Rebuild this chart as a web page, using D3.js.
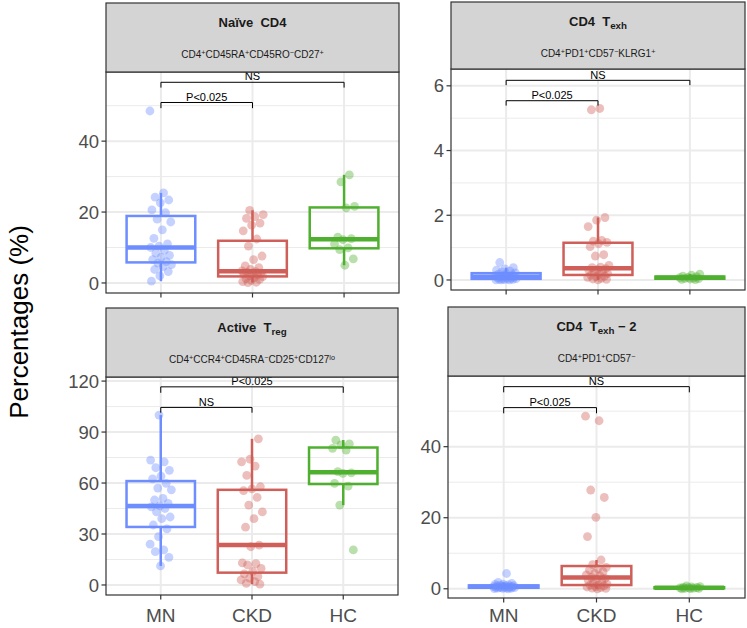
<!DOCTYPE html>
<html><head><meta charset="utf-8">
<script src="https://cdn.jsdelivr.net/npm/d3@7"></script>
<style>body{margin:0;background:#fff}svg{display:block;font-family:"Liberation Sans",Arial,sans-serif}</style>
</head><body><svg id="c" width="747" height="628"></svg>
<script>
// ---------- data ----------
const categories = ["MN", "CKD", "HC"];

const naiveMN  = [48.5, 25.4, 24.2, 23.4, 22.6, 20.6, 19.8, 18.0, 17.2, 15.0, 12.6, 11.0, 10.4, 10.0, 9.2, 8.4, 7.8, 7.2, 6.6, 6.0, 5.6, 5.2, 4.6, 3.8, 3.2, 2.0, 0.5];
const naiveCKD = [20.5, 19.3, 18.7, 18.2, 16.9, 16.3, 14.7, 12.4, 10.4, 7.6, 6.6, 4.8, 4.3, 3.8, 3.4, 3.2, 3.0, 2.8, 2.6, 2.5, 2.3, 2.0, 1.8, 1.5, 1.2, 1.0, 0.7, 0.4, 0.2, 0.1];
const naiveHC  = [30.5, 28.5, 21.6, 21.2, 12.9, 12.5, 12.2, 11.0, 9.9, 9.4, 6.8, 5.0];

const texhMN  = [0.54, 0.38, 0.34, 0.30, 0.27, 0.25, 0.22, 0.20, 0.18, 0.16, 0.15, 0.13, 0.12, 0.10, 0.09, 0.08, 0.07, 0.06, 0.05, 0.04, 0.03, 0.02, 0.02, 0.01, 0.0, 0.0, 0.0];
const texhCKD = [5.30, 5.26, 1.93, 1.85, 1.65, 1.22, 1.20, 1.16, 1.12, 1.03, 0.78, 0.74, 0.45, 0.40, 0.38, 0.35, 0.32, 0.30, 0.27, 0.24, 0.20, 0.17, 0.15, 0.12, 0.10, 0.08, 0.05, 0.03, 0.02, 0.0];
const texhHC  = [0.18, 0.15, 0.12, 0.10, 0.08, 0.07, 0.06, 0.05, 0.04, 0.03, 0.02, 0.01];

const tregMN  = [100, 73.5, 72.5, 69, 67.5, 64, 62.5, 59.8, 57, 56, 51, 50, 48, 46.5, 46, 45, 43, 40, 39, 35.3, 33, 28.4, 24, 20.6, 19.6, 16.3, 11.2];
const tregCKD = [86, 74, 72.5, 70, 64.5, 57.8, 56.5, 55.5, 51.5, 47, 43, 39, 34, 23.5, 22.5, 13, 12.5, 11.8, 9.8, 8.0, 6.5, 5, 4, 3, 2, 1, 0.5];
const tregHC  = [85.3, 83, 82.4, 80.4, 79.4, 66.7, 66.0, 65.7, 59.8, 58.2, 47, 20.6];

const texh2MN  = [4.3, 1.8, 1.5, 1.3, 1.2, 1.1, 1.0, 0.9, 0.9, 0.8, 0.7, 0.7, 0.6, 0.55, 0.5, 0.5, 0.45, 0.4, 0.35, 0.3, 0.3, 0.25, 0.2, 0.15, 0.1, 0.05, 0.0];
const texh2CKD = [48.6, 47.3, 27.8, 25.7, 20.1, 14.7, 8.1, 6.8, 6.0, 5.7, 5.3, 4.8, 4.3, 3.9, 3.6, 3.2, 2.9, 2.6, 2.4, 2.0, 1.6, 1.3, 1.1, 1.0, 0.8, 0.6, 0.5, 0.3, 0.2, 0.1, 0.0];
const texh2HC  = [0.8, 0.6, 0.5, 0.4, 0.35, 0.3, 0.25, 0.2, 0.15, 0.1, 0.05, 0.0];

const naiveTicks = [0, 20, 40];
const texhTicks  = [0, 2, 4, 6];
const tregTicks  = [0, 30, 60, 90, 120];
const texh2Ticks = [0, 20, 40];

// significance brackets: [from, to, y (data units), tip length, label]
const naiveBrackets = [["MN", "HC", 56.6, 1.5, "NS"], ["MN", "CKD", 50.9, 1.6, "P<0.025"]];
const texhBrackets  = [["MN", "HC", 6.17, 0.15, "NS"], ["MN", "CKD", 5.54, 0.15, "P<0.025"]];
const tregBrackets  = [["MN", "HC", 116.6, 3.5, "P<0.025"], ["MN", "CKD", 104.5, 3.1, "NS"]];
const texh2Brackets = [["MN", "HC", 56.9, 1.6, "NS"], ["MN", "CKD", 51.0, 1.6, "P<0.025"]];

const colors = ["#6E8EFF", "#CF5F58", "#4FB030"];

// ---------- layout ----------
const panels = [
  {groups:[naiveMN,naiveCKD,naiveHC], ticks:naiveTicks, brackets:naiveBrackets,
   x0:106, x1:399, st:3, sb:72, pb:293, dom:[-2.83,59.5], xlab:false,
   title:[["Naïve  CD4",""]],
   sub:[["CD4",""],["+","sup"],["CD45RA",""],["+","sup"],["CD45RO",""],["−","sup"],["CD27",""],["+","sup"]]},
  {groups:[texhMN,texhCKD,texhHC], ticks:texhTicks, brackets:texhBrackets,
   x0:451, x1:745, st:2, sb:69, pb:290, dom:[-0.31,6.52], xlab:false,
   title:[["CD4  T",""],["exh","sub"]],
   sub:[["CD4",""],["+","sup"],["PD1",""],["+","sup"],["CD57",""],["−","sup"],["KLRG1",""],["+","sup"]]},
  {groups:[tregMN,tregCKD,tregHC], ticks:tregTicks, brackets:tregBrackets,
   x0:106, x1:398, st:308, sb:377, pb:595, dom:[-5.9,122.4], xlab:true,
   title:[["Active  T",""],["reg","sub"]],
   sub:[["CD4",""],["+","sup"],["CCR4",""],["+","sup"],["CD45RA",""],["−","sup"],["CD25",""],["+","sup"],["CD127",""],["lo","sup"]]},
  {groups:[texh2MN,texh2CKD,texh2HC], ticks:texh2Ticks, brackets:texh2Brackets,
   x0:448, x1:745, st:307, sb:376, pb:598, dom:[-2.6,59.9], xlab:true,
   title:[["CD4  T",""],["exh","sub"],[" − 2",""]],
   sub:[["CD4",""],["+","sup"],["PD1",""],["+","sup"],["CD57",""],["−","sup"]]}
];

const svg = d3.select("#c");
const defs = svg.append("defs");

function addRich(sel, segs){
  segs.forEach(([t, k]) => {
    const ts = sel.append("tspan").text(t);
    if (k === "sub") ts.attr("baseline-shift", "-30%").attr("font-size", "75%");
    if (k === "sup") ts.attr("baseline-shift", "40%").attr("font-size", "72%");
  });
}

panels.forEach((p, pi) => {
  // ggplot-like discrete axis with 0.6 unit expansion each side
  const step = (p.x1 - p.x0) / 3.2;
  const x = d3.scalePoint().domain(categories).range([p.x0 + 0.6 * step, p.x1 - 0.6 * step]);
  const cx = c => x(c);
  const y = d3.scaleLinear().domain(p.dom).range([p.pb, p.sb]);
  const g = svg.append("g");

  // panel background + grid
  g.append("rect").attr("x", p.x0).attr("y", p.sb).attr("width", p.x1 - p.x0).attr("height", p.pb - p.sb).attr("fill", "#fff");
  const minor = d3.range(p.ticks.length).map(i => i < p.ticks.length - 1 ? (p.ticks[i] + p.ticks[i+1]) / 2 : p.ticks[i] + (p.ticks[1]-p.ticks[0]) / 2)
    .filter(v => v < p.dom[1]);
  g.selectAll(".mi").data(minor).join("line")
    .attr("x1", p.x0).attr("x2", p.x1).attr("y1", d => y(d)).attr("y2", d => y(d))
    .attr("stroke", "#EBEBEB").attr("stroke-width", 1);
  g.selectAll(".mj").data(p.ticks).join("line")
    .attr("x1", p.x0).attr("x2", p.x1).attr("y1", d => y(d)).attr("y2", d => y(d))
    .attr("stroke", "#EBEBEB").attr("stroke-width", 2);
  g.selectAll(".vx").data(categories).join("line")
    .attr("x1", d => cx(d)).attr("x2", d => cx(d)).attr("y1", p.sb).attr("y2", p.pb)
    .attr("stroke", "#EBEBEB").attr("stroke-width", 2);

  const clipId = "clip" + pi;
  defs.append("clipPath").attr("id", clipId).append("rect")
    .attr("x", p.x0).attr("y", p.sb).attr("width", p.x1 - p.x0).attr("height", p.pb - p.sb);
  const inner = g.append("g").attr("clip-path", `url(#${clipId})`);

  const bw = step * 0.75;
  p.groups.forEach((vals, gi) => {
    const c = categories[gi];
    const col = colors[gi];
    const s = vals.slice().sort(d3.ascending);
    const q1 = d3.quantile(s, 0.25), med = d3.quantile(s, 0.5), q3 = d3.quantile(s, 0.75);
    const iqr = q3 - q1;
    const lo = d3.min(s.filter(v => v >= q1 - 1.5 * iqr));
    const hi = d3.max(s.filter(v => v <= q3 + 1.5 * iqr));
    const xc = cx(c);
    const bg = inner.append("g").attr("stroke", col).attr("fill", "none");
    bg.append("line").attr("x1", xc).attr("x2", xc).attr("y1", y(q3)).attr("y2", y(hi)).attr("stroke-width", 2.5);
    bg.append("line").attr("x1", xc).attr("x2", xc).attr("y1", y(q1)).attr("y2", y(lo)).attr("stroke-width", 2.5);
    bg.append("rect").attr("x", xc - bw / 2).attr("y", y(q3)).attr("width", bw).attr("height", Math.max(0.5, y(q1) - y(q3)))
      .attr("stroke-width", 2.5);
    bg.append("line").attr("x1", xc - bw / 2).attr("x2", xc + bw / 2).attr("y1", y(med)).attr("y2", y(med)).attr("stroke-width", 4.5);
    // jittered points (deterministic spread)
    inner.append("g").selectAll("circle").data(vals).join("circle")
      .attr("cx", (d, i) => xc + (((i * 0.618034 + gi * 0.37 + pi * 0.21) % 1) - 0.5) * 22)
      .attr("cy", d => y(d)).attr("r", 4.4)
      .attr("fill", col).attr("fill-opacity", 0.4);
  });

  // brackets
  p.brackets.forEach(([a, b, yv, tip, lab]) => {
    const xa = cx(a), xb = cx(b), yy = y(yv), yt = y(yv - tip);
    inner.append("path").attr("d", `M${xa},${yt}V${yy}H${xb}V${yt}`)
      .attr("fill", "none").attr("stroke", "#000").attr("stroke-width", 1);
    inner.append("text").attr("x", (xa + xb) / 2).attr("y", yy - 1.8).attr("text-anchor", "middle")
      .attr("font-size", 11).attr("fill", "#000").text(lab);
  });

  // border
  g.append("rect").attr("x", p.x0).attr("y", p.sb).attr("width", p.x1 - p.x0).attr("height", p.pb - p.sb)
    .attr("fill", "none").attr("stroke", "#333").attr("stroke-width", 1.2);

  // y axis ticks
  const ya = g.append("g");
  p.ticks.forEach(t => {
    ya.append("line").attr("x1", p.x0 - 4.5).attr("x2", p.x0).attr("y1", y(t)).attr("y2", y(t)).attr("stroke", "#333").attr("stroke-width", 1.2);
    ya.append("text").attr("x", p.x0 - 7).attr("y", y(t)).attr("dy", "0.36em").attr("text-anchor", "end")
      .attr("font-size", 18.5).attr("fill", "#4D4D4D").text(t);
  });
  // x ticks
  categories.forEach(c => {
    g.append("line").attr("x1", cx(c)).attr("x2", cx(c)).attr("y1", p.pb).attr("y2", p.pb + 4.5).attr("stroke", "#333").attr("stroke-width", 1.2);
    if (p.xlab) g.append("text").attr("x", cx(c)).attr("y", 622).attr("text-anchor", "middle")
      .attr("font-size", 19).attr("fill", "#4D4D4D").text(c);
  });

  // strip
  g.append("rect").attr("x", p.x0).attr("y", p.st).attr("width", p.x1 - p.x0).attr("height", p.sb - p.st)
    .attr("fill", "#D4D4D4").attr("stroke", "#333").attr("stroke-width", 1.2);
  const mid = (p.x0 + p.x1) / 2;
  const t1 = g.append("text").attr("x", mid).attr("y", p.st + 24).attr("text-anchor", "middle")
    .attr("font-size", 13).attr("font-weight", "bold").attr("fill", "#1a1a1a").attr("xml:space", "preserve");
  addRich(t1, p.title);
  const t2 = g.append("text").attr("x", mid).attr("y", p.st + 54.5).attr("text-anchor", "middle")
    .attr("font-size", 10).attr("fill", "#1a1a1a");
  addRich(t2, p.sub);
});

svg.append("text").attr("transform", "translate(28,322) rotate(-90)").attr("text-anchor", "middle")
  .attr("font-size", 26).attr("fill", "#000").text("Percentages (%)");
</script></body></html>
